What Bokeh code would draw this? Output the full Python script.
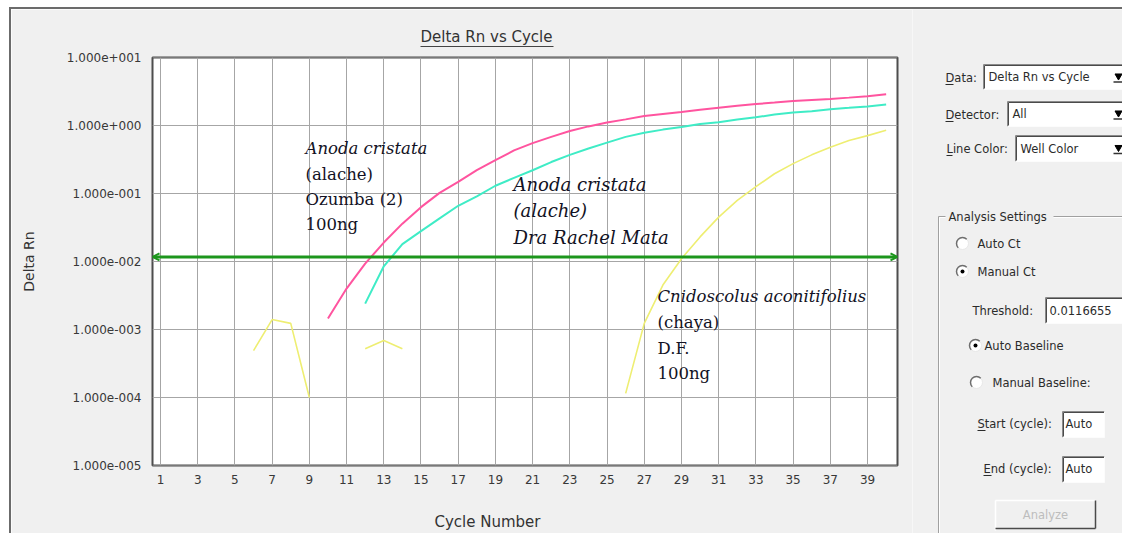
import math
from bokeh.plotting import figure
from bokeh.layouts import row, column
from bokeh.models import (Range1d, FixedTicker, Label, Arrow, OpenHead, LinearAxis)
from bokeh.core.properties import value
from bokeh.embed import file_html
from bokeh.resources import INLINE

NAN = float("nan")

# ---- amplification data: Delta Rn per cycle for three wells ----
pink_cycles = list(range(10, 41))
pink_rn = [0.00145, 0.0040, 0.0093, 0.019, 0.036, 0.063, 0.102, 0.148, 0.22, 0.31,
           0.43, 0.55, 0.68, 0.83, 0.97, 1.11, 1.23, 1.38, 1.48, 1.58,
           1.70, 1.82, 1.95, 2.07, 2.17, 2.29, 2.38, 2.46, 2.57, 2.69, 2.88]

cyan_cycles = list(range(12, 41))
cyan_rn = [0.0024, 0.0085, 0.018, 0.028, 0.043, 0.066, 0.091, 0.13, 0.17, 0.22,
           0.29, 0.37, 0.46, 0.56, 0.68, 0.78, 0.87, 0.95, 1.05, 1.12,
           1.23, 1.32, 1.45, 1.55, 1.62, 1.74, 1.82, 1.91, 2.04]

# cycles with a non-positive Delta Rn are not shown on the log axis
yellow_cycles = [6, 7, 8, 9, 12, 13, 14] + list(range(26, 41))
yellow_rn = [0.00049, 0.00140, 0.00123, 0.00010,
             0.00052, 0.00069, 0.00052,
             0.000115, 0.00123, 0.0045, 0.011, 0.023, 0.045, 0.079, 0.126,
             0.195, 0.275, 0.37, 0.48, 0.60, 0.71, 0.85]

threshold = 0.0116655

x_ticks = list(range(1, 40, 2))
y_ticks = [10.0, 1.0, 0.1, 0.01, 0.001, 0.0001, 0.00001]
y_tick_labels = ["1.000e+001", "1.000e+000", "1.000e-001", "1.000e-002",
                 "1.000e-003", "1.000e-004", "1.000e-005"]

# ---- window geometry (page pixels) ----
OX, OY = 11, 9                 # inner corner of the window frame
PAGE_W, PAGE_H = 1122, 533
SPLIT = 912                    # chart | settings panel
FRAME_L, FRAME_T = 152, 57
FRAME_W, FRAME_H = 745, 408
X0, X1 = 0.57, 40.61
Y_TOP_EXP, Y_BOT_EXP = 1.0, -5.0

W_MAIN = SPLIT - OX
W_PANEL = PAGE_W - SPLIT
H = PAGE_H - OY

BG = "#f0f0f0"
INK = "#333333"
SERIF_INK = "#121224"


def px_x(px):
    return X0 + (px - FRAME_L) * (X1 - X0) / FRAME_W


def px_y(py):
    return 10 ** (Y_TOP_EXP - (py - FRAME_T) * (Y_TOP_EXP - Y_BOT_EXP) / FRAME_H)


def with_gaps(cycles, vals):
    xs, ys, prev = [], [], None
    for c, v in zip(cycles, vals):
        if prev is not None and c - prev > 1:
            xs.append(NAN)
            ys.append(NAN)
        xs.append(c)
        ys.append(v)
        prev = c
    return xs, ys


p = figure(width=W_MAIN, height=H, title=None,
           x_range=Range1d(X0, X1), y_range=Range1d(0.999999e-5, 1.000001e1),
           y_axis_type="log", output_backend="svg", toolbar_location=None,
           min_border_left=FRAME_L - OX, min_border_right=SPLIT - FRAME_L - FRAME_W,
           min_border_top=FRAME_T - OY, min_border_bottom=PAGE_H - FRAME_T - FRAME_H,
           background_fill_color="white", border_fill_color=BG,
           outline_line_color="#4d4d4d", outline_line_width=2)

# axes
p.xaxis.ticker = FixedTicker(ticks=x_ticks)
p.yaxis.ticker = FixedTicker(ticks=y_ticks)
p.yaxis.major_label_overrides = dict(zip(y_ticks, y_tick_labels))
for ax in (p.xaxis[0], p.yaxis[0]):
    ax.axis_line_color = None
    ax.major_tick_line_color = None
    ax.minor_tick_line_color = None
    ax.major_tick_out = 0
    ax.major_tick_in = 0
    ax.major_label_text_font = "DejaVu Sans"
    ax.major_label_text_font_size = "12px"
    ax.major_label_text_color = "#383838"
p.xaxis.major_label_standoff = 9
p.yaxis.major_label_standoff = 11
p.yaxis.axis_label = "Delta Rn"
p.yaxis.axis_label_text_font = "DejaVu Sans"
p.yaxis.axis_label_text_font_style = "normal"
p.yaxis.axis_label_text_font_size = "14px"
p.yaxis.axis_label_text_color = INK
p.yaxis.axis_label_standoff = 27

# pixel-based range used to place the chart caption and axis title
p.extra_x_ranges = {"px": Range1d(FRAME_L, FRAME_L + FRAME_W)}


def caption_axis(loc, px, text, standoff, size="15px", color=INK, underline=None):
    ax = LinearAxis(x_range_name="px", ticker=FixedTicker(ticks=[px]),
                    major_label_overrides={px: text},
                    major_label_standoff=standoff,
                    major_tick_line_color=None, minor_tick_line_color=None,
                    major_tick_out=0, major_tick_in=0,
                    major_label_text_font="DejaVu Sans",
                    major_label_text_font_size=size,
                    major_label_text_color=color)
    if underline is None:
        ax.axis_line_color = None
    else:
        ax.axis_line_color = "#444444"
        ax.axis_line_width = 1
        ax.bounds = underline
    p.add_layout(ax, loc)
    return ax


# a background-coloured spacer keeps the underlined chart title clear of the frame
caption_axis("above", 486, "\u00b7", 1, size="6px", color=BG)
caption_axis("above", 486, "Delta Rn vs Cycle", 1, underline=(420, 553))
caption_axis("below", 487, "Cycle Number", 26)

# grid: one line per decade, one per odd cycle
p.xgrid.ticker = FixedTicker(ticks=x_ticks)
p.ygrid.ticker = FixedTicker(ticks=y_ticks)
p.grid.grid_line_color = "#a6a6a6"
p.grid.grid_line_width = 1
p.ygrid.minor_grid_line_color = None

# amplification curves
yx, yy = with_gaps(yellow_cycles, yellow_rn)
p.line(yx, yy, line_color="#eeee72", line_width=1.6)
p.line(cyan_cycles, cyan_rn, line_color="#3fecc6", line_width=2)
p.line(pink_cycles, pink_rn, line_color="#ff549f", line_width=2)

# threshold line with arrow heads at both ends
green = "#1c961c"
p.add_layout(Arrow(x_start=X0, x_end=X1, y_start=threshold, y_end=threshold,
                   line_color=green, line_width=3,
                   start=OpenHead(size=7, line_color=green, line_width=2),
                   end=OpenHead(size=7, line_color=green, line_width=2)))


def label(x_px, y_px, text, size, style="normal"):
    p.add_layout(Label(x=px_x(x_px), y=px_y(y_px), text=text,
                       text_font="DejaVu Serif", text_font_size=size,
                       text_font_style=style, text_color=SERIF_INK,
                       text_align="left", text_baseline="middle"))


# sample annotations
label(305, 148, "Anoda cristata", "16.5px", "italic")
label(305, 174, "(alache)", "16.5px")
label(305, 199, "Ozumba (2)", "16.5px")
label(305, 224, "100ng", "16.5px")

label(513, 184, "Anoda cristata", "18px", "italic")
label(513, 210, "(alache)", "18px", "italic")
label(513, 237, "Dra Rachel Mata", "18px", "italic")

label(657, 296, "Cnidoscolus aconitifolius", "16.5px", "italic")
label(657, 322, "(chaya)", "16.5px")
label(657, 348, "D.F.", "16.5px")
label(657, 373, "100ng", "16.5px")

# ---- settings panel (drawn in page pixels) ----
q = figure(width=W_PANEL, height=H, title=None,
           x_range=Range1d(SPLIT, PAGE_W), y_range=Range1d(PAGE_H, OY),
           x_axis_location=None, y_axis_location=None,
           output_backend="svg", toolbar_location=None, min_border=0,
           background_fill_color=BG, border_fill_color=BG, outline_line_color=None)
q.xgrid.visible = False
q.ygrid.visible = False

FONT = value("DejaVu Sans")
FS = "11.5px"


def ui_text(xs, ys, texts, color="#2b2b2b", align="left", size=FS):
    q.text(x=xs, y=ys, text=texts, text_font=FONT, text_font_size=size,
           text_color=color, text_baseline="middle", text_align=align)


def sunken(l, r, t, b):
    q.quad(left=[l], right=[r], top=[t], bottom=[b], fill_color="white", line_color=None)
    q.segment(x0=[l, l], y0=[t, t], x1=[r, l], y1=[t, b], line_color="#8a8a8a", line_width=1)
    q.segment(x0=[l + 1, l + 1], y0=[t + 1, t + 1], x1=[r, l + 1], y1=[t + 1, b - 1],
              line_color="#4a4a4a", line_width=1)
    q.segment(x0=[l, r], y0=[b, t], x1=[r, r], y1=[b, b], line_color="#fcfcfc", line_width=1)


def underline(x, y, w):
    q.segment(x0=[x], y0=[y], x1=[x + w], y1=[y], line_color="#2b2b2b", line_width=1)


# drop-down boxes
combos = [(983, 64, 89, "Delta Rn vs Cycle"), (1007, 101, 126, "All"), (1015, 135, 161, "Well Color")]
for (l, t, b, txt) in combos:
    sunken(l, 1126, t, b)
    ui_text([l + 5], [(t + b) / 2], [txt])
    q.scatter(x=[1118], y=[(t + b) / 2 - 1], marker="inverted_triangle", size=7,
              fill_color="black", line_color="black")
    q.segment(x0=[1113], y0=[(t + b) / 2 + 5], x1=[1122], y1=[(t + b) / 2 + 5],
              line_color="#333333", line_width=1.5)

ui_text([945, 945, 946], [77, 114, 148], ["Data:", "Detector:", "Line Color:"])
underline(945, 84, 8)
underline(945, 121, 8)
underline(946, 155, 6)

# Analysis Settings group box
q.segment(x0=[938, 1053, 938], y0=[216, 216, 216], x1=[945, 1126, 938], y1=[216, 216, 540],
          line_color="#a0a0a0", line_width=1)
q.segment(x0=[939, 1053, 939], y0=[217, 217, 217], x1=[945, 1126, 939], y1=[217, 217, 540],
          line_color="#ffffff", line_width=1)
ui_text([948], [216], ["Analysis Settings"])

# radio buttons
radios = [(962, 243, "Auto Ct", False, 977), (962, 271, "Manual Ct", True, 977),
          (975, 345, "Auto Baseline", True, 984), (976, 382, "Manual Baseline:", False, 992)]
for (cx, cy, txt, on, tx) in radios:
    q.circle(x=[cx], y=[cy], radius=6, fill_color="white", line_color="#e8e8e8", line_width=1)
    q.arc(x=[cx], y=[cy], radius=6, start_angle=math.radians(45), end_angle=math.radians(225),
          line_color="#6e6e6e", line_width=1.5)
    if on:
        q.circle(x=[cx], y=[cy], radius=2, fill_color="black", line_color=None)
    ui_text([tx], [cy], [txt])

# threshold and baseline fields
ui_text([972], [310], ["Threshold:"])
sunken(1045, 1126, 297, 323)
ui_text([1049], [310], ["0.0116655"])

ui_text([977], [423], ["Start (cycle):"])
underline(977, 430, 8)
sunken(1062, 1104, 411, 437)
ui_text([1065], [423], ["Auto"])

ui_text([983], [468], ["End (cycle):"])
underline(983, 475, 8)
sunken(1062, 1104, 456, 482)
ui_text([1065], [468], ["Auto"])

# disabled analyse button
q.segment(x0=[995, 995], y0=[500, 500], x1=[1095, 995], y1=[500, 530], line_color="#ffffff", line_width=1.5)
q.segment(x0=[995, 1095], y0=[528, 500], x1=[1095, 1095], y1=[528, 528], line_color="#4a4a4a", line_width=1.5)
ui_text([1045], [514], ["Analyze"], color="#bdbdbd", align="center")

layout = row(p, column(q),
             styles={"margin-top": "7px", "margin-left": "9px",
                     "border-top": "2px solid #6b6b6b", "border-left": "2px solid #6b6b6b"})
open("out.html", "w").write(file_html(layout, INLINE))
